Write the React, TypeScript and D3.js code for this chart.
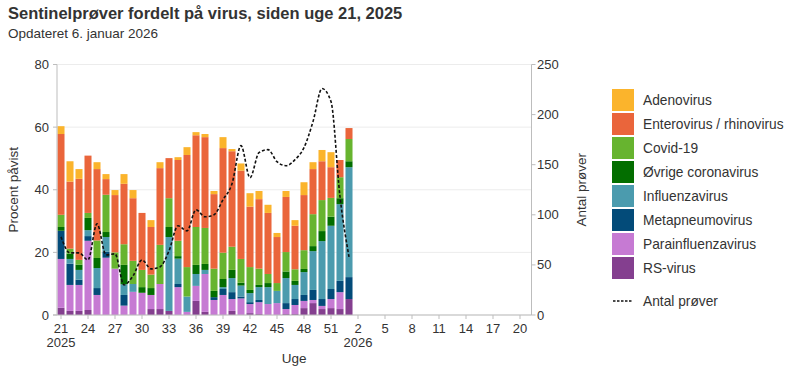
import React from 'react';
import * as d3 from 'd3';

// Axis categories: ISO weeks from week 21 2025 to week 21 2026
const axisWeeks = [21, 22, 23, 24, 25, 26, 27, 28, 29, 30, 31, 32, 33, 34, 35, 36, 37, 38, 39, 40, 41, 42, 43, 44, 45, 46, 47, 48, 49, 50, 51, 52, 1, 2, 3, 4, 5, 6, 7, 8, 9, 10, 11, 12, 13, 14, 15, 16, 17, 18, 19, 20, 21];
const yearLabels = [{ index: 0, label: '2025' }, { index: 33, label: '2026' }];

// Weeks with data (indices 0..32 on the axis)
const dataWeeks = [21, 22, 23, 24, 25, 26, 27, 28, 29, 30, 31, 32, 33, 34, 35, 36, 37, 38, 39, 40, 41, 42, 43, 44, 45, 46, 47, 48, 49, 50, 51, 52, 1];

const rsVirus = [2.3, 1.3, 1.3, 1.6, 0, 0, 0, 0, 0, 0, 1.9, 1.9, 1.3, 0, 0, 4.5, 1.0, 0, 0, 1.3, 0, 0.6, 0.3, 0, 0, 0.3, 0.3, 2.2, 3.8, 1.9, 2.2, 1.9, 5.1];
const parainfluenza = [15.6, 8.3, 8.3, 22.1, 6.4, 18.3, 14.8, 3.0, 7.4, 7.1, 4.5, 8.0, 0, 8.9, 1.0, 4.8, 12.1, 4.8, 6.4, 3.8, 5.3, 2.9, 3.8, 3.5, 3.8, 1.6, 2.9, 2.3, 1.0, 1.0, 2.9, 5.4, 0];
const metapneumo = [9.0, 6.8, 1.7, 1.5, 2.2, 1.9, 0, 3.4, 0, 0, 0, 0, 0, 1.0, 0, 0, 0, 0.9, 1.9, 2.2, 0.6, 0.6, 0.7, 0, 0, 1.9, 1.9, 1.9, 3.2, 2.2, 3.2, 3.6, 7.0];
const influenza = [0, 1.5, 3.1, 1.9, 6.4, 4.7, 0, 3.4, 2.5, 0, 0, 0, 23.6, 8.1, 4.9, 3.8, 1.3, 0, 0.6, 4.5, 3.5, 2.9, 4.1, 5.4, 3.9, 8.0, 4.5, 7.3, 12.4, 18.5, 20.2, 24.5, 35.1];
const ovrigeCorona = [1.2, 1.7, 1.7, 3.9, 3.2, 1.6, 0, 6.2, 0, 1.8, 2.2, 0, 3.2, 0.8, 0, 2.9, 1.9, 2.0, 2.6, 2.6, 0.9, 1.0, 0.7, 1.3, 0, 2.1, 1.3, 1.0, 1.6, 3.2, 2.9, 1.9, 1.9];
const covid19 = [3.9, 1.6, 1.5, 1.6, 5.6, 11.9, 5.2, 6.6, 7.4, 5.5, 4.3, 12.5, 9.2, 4.9, 9.4, 12.1, 11.5, 7.1, 8.4, 7.4, 7.6, 7.3, 5.2, 2.9, 2.5, 6.2, 3.7, 6.0, 10.2, 9.9, 6.0, 6.7, 7.1];
const enteroRhino = [25.8, 21.4, 25.9, 18.3, 22.8, 5.0, 18.3, 19.3, 20.0, 18.2, 15.2, 24.5, 12.8, 25.8, 35.8, 29.3, 29.0, 23.8, 33.4, 30.5, 28.2, 19.3, 22.2, 19.5, 14.7, 17.6, 13.9, 17.6, 14.4, 12.4, 9.8, 5.5, 3.5];
const adenovirus = [2.5, 6.5, 3.1, 0, 2.2, 1.6, 1.6, 3.1, 2.6, 0, 2.2, 1.9, 0, 0.9, 2.5, 1.0, 1.0, 1.0, 3.5, 0.7, 2.3, 4.3, 2.6, 2.6, 1.3, 1.9, 1.8, 4.1, 2.2, 3.6, 4.8, 0, 0];

const antalProver = [78, 62, 62, 55, 91, 60, 61, 30, 39, 55, 46, 48, 64, 89, 84, 105, 98, 100, 115, 131, 169, 137, 162, 165, 153, 149, 155, 167, 193, 226, 213, 118, 58];

const leftTicks = [0, 20, 40, 60, 80];
const rightTicks = [0, 50, 100, 150, 200, 250];

const seriesNames = ['RS-virus', 'Parainfluenzavirus', 'Metapneumovirus', 'Influenzavirus', 'Øvrige coronavirus', 'Covid-19', 'Enterovirus / rhinovirus', 'Adenovirus'];
const seriesValues = [rsVirus, parainfluenza, metapneumo, influenza, ovrigeCorona, covid19, enteroRhino, adenovirus];
const seriesColors = ['#843f8f', '#c67ad3', '#034b79', '#4b9bae', '#036e00', '#67b42f', '#ea653b', '#fbb42c'];

const FONT = '"Liberation Sans", Arial, sans-serif';
const TEXT = '#333333';

export default function App() {
  const W = 800, H = 375;
  const left = 57, right = 531.5, top = 64.5, bottom = 315;

  const x = d3.scaleBand<number>().domain(d3.range(axisWeeks.length)).range([56.5, 533.5]).paddingInner(0.22).paddingOuter(0.11);
  const bw = x.bandwidth();
  const cx = (i: number) => (x(i) as number) + bw / 2;
  const y = d3.scaleLinear().domain([0, 80]).range([bottom, top]);
  const y2 = d3.scaleLinear().domain([0, 250]).range([bottom, top]);

  const rows = dataWeeks.map((w, i) => {
    const r: Record<string, number> = { idx: i };
    seriesNames.forEach((n, k) => { r[n] = seriesValues[k][i]; });
    return r;
  });
  const stacked = d3.stack<Record<string, number>>().keys(seriesNames)(rows);

  const line = d3.line<number>()
    .x((_, i) => cx(i))
    .y((v) => y2(v))
    .curve(d3.curveMonotoneX);

  const tickIdx = d3.range(0, 52, 3);
  const legendOrder = [...seriesNames].reverse();
  const legendColors = [...seriesColors].reverse();

  return (
    <svg width={W} height={H} style={{ position: 'absolute', left: 0, top: 0, background: '#fff' }} fontFamily={FONT}>
      <text x={8} y={19} fontSize={16.5} fontWeight="bold" fill={TEXT}>Sentinelprøver fordelt på virus, siden uge 21, 2025</text>
      <text x={8} y={38} fontSize={13.5} fill={TEXT}>Opdateret 6. januar 2026</text>

      {leftTicks.map((t) => (
        <line key={'g' + t} x1={left} x2={right} y1={y(t)} y2={y(t)} stroke="#ececec" strokeWidth={1} />
      ))}

      {stacked.map((s, k) => (
        <g key={s.key} fill={seriesColors[k]}>
          {s.map((d, i) => {
            const h = y(d[0]) - y(d[1]);
            if (h <= 0) return null;
            return <rect key={i} x={x(i)} y={y(d[1])} width={bw} height={h} />;
          })}
        </g>
      ))}

      <path d={line(antalProver) || ''} fill="none" stroke="#111" strokeWidth={1.6} strokeDasharray="3,2" />

      {/* left axis */}
      <line x1={left} x2={left} y1={top} y2={bottom} stroke="#bdbdbd" />
      {leftTicks.map((t) => (
        <g key={'l' + t}>
          <line x1={left - 4} x2={left} y1={y(t)} y2={y(t)} stroke="#bdbdbd" />
          <text x={49} y={y(t)} dy="0.35em" textAnchor="end" fontSize={13} fill={TEXT}>{t}</text>
        </g>
      ))}
      {/* right axis */}
      <line x1={right} x2={right} y1={top} y2={bottom} stroke="#bdbdbd" />
      {rightTicks.map((t) => (
        <g key={'r' + t}>
          <line x1={right} x2={right + 4} y1={y2(t)} y2={y2(t)} stroke="#bdbdbd" />
          <text x={537} y={y2(t)} dy="0.35em" textAnchor="start" fontSize={13} fill={TEXT}>{t}</text>
        </g>
      ))}
      {/* bottom axis */}
      <line x1={left - 4} x2={right} y1={bottom} y2={bottom} stroke="#bdbdbd" />
      {tickIdx.map((i) => (
        <g key={'b' + i}>
          <line x1={cx(i)} x2={cx(i)} y1={bottom} y2={bottom + 4} stroke="#bdbdbd" />
          <text x={cx(i)} y={332.5} textAnchor="middle" fontSize={13} fill={TEXT}>{axisWeeks[i]}</text>
        </g>
      ))}
      {yearLabels.map((yl) => (
        <text key={yl.label} x={cx(yl.index)} y={347} textAnchor="middle" fontSize={13} fill={TEXT}>{yl.label}</text>
      ))}
      <text x={(left + right) / 2} y={363} textAnchor="middle" fontSize={13.5} fill={TEXT}>Uge</text>
      <text transform={`translate(18,${(top + bottom) / 2}) rotate(-90)`} textAnchor="middle" fontSize={13.5} fill={TEXT}>Procent påvist</text>
      <text transform={`translate(586,${(top + bottom) / 2}) rotate(-90)`} textAnchor="middle" fontSize={13.5} fill={TEXT}>Antal prøver</text>

      {/* legend */}
      {legendOrder.map((n, i) => (
        <g key={'lg' + n} transform={`translate(612,${89 + i * 24})`}>
          <rect width={22} height={22} fill={legendColors[i]} />
          <text x={31} y={11} dy="0.35em" fontSize={13.75} fill={TEXT}>{n}</text>
        </g>
      ))}
      <g transform="translate(612,301)">
        <line x1={1} x2={21} y1={0} y2={0} stroke="#111" strokeWidth={1.4} strokeDasharray="2.5,1.5" />
        <text x={31} y={0} dy="0.35em" fontSize={13.75} fill={TEXT}>Antal prøver</text>
      </g>
    </svg>
  );
}
